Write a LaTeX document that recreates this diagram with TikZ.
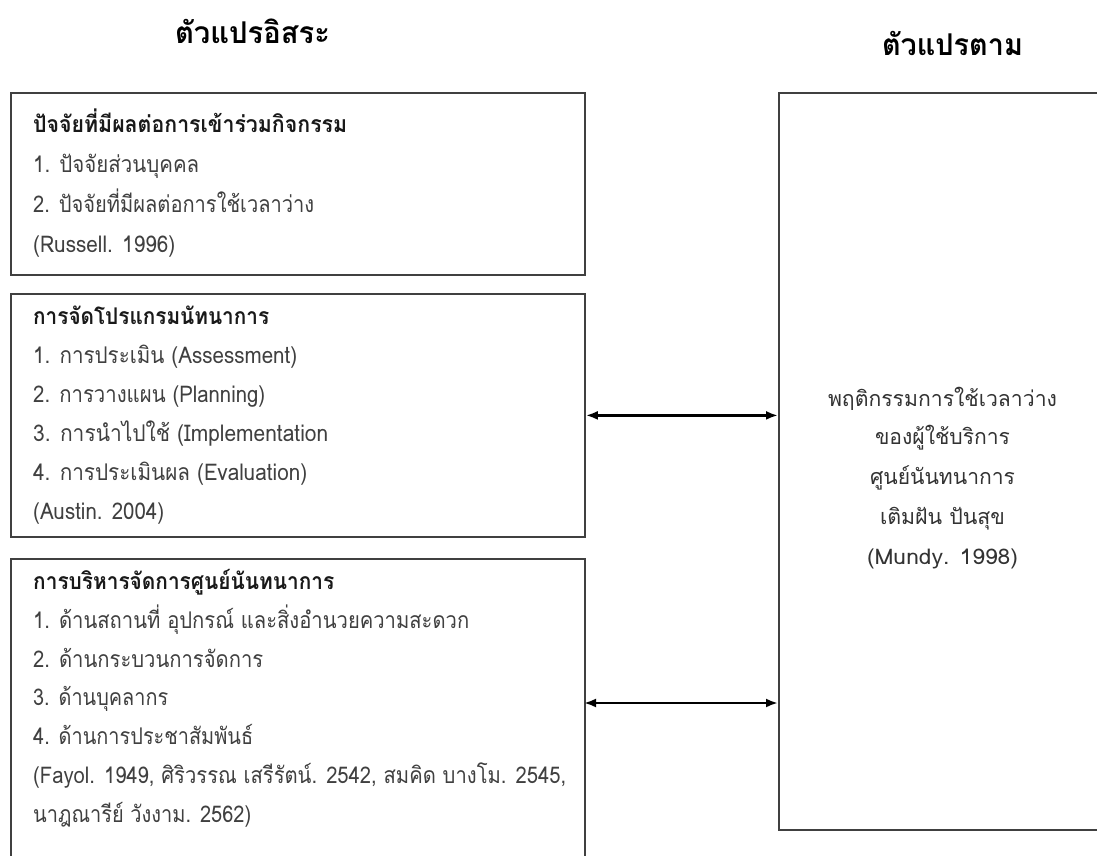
\documentclass[tikz,border=0pt]{standalone}
\usepackage{fontspec}
\usepackage{graphicx}
\newfontfamily\thai[Script=Thai]{Loma}
\usetikzlibrary{arrows.meta}
\newcommand{\fw}[2]{\resizebox{#1pt}{\height}{#2}}
\begin{document}
\begin{tikzpicture}[x=1pt,y=-1pt,
  frame/.style={draw=black!75, line width=1.8pt, anchor=north west, inner sep=0pt},
  head/.style={anchor=base west, inner sep=0pt, font=\thai\fontsize{23}{23}\selectfont\bfseries, text=black!90},
  item/.style={anchor=base west, inner sep=0pt, font=\thai\fontsize{23}{23}\selectfont, text=black!75},
  rtext/.style={anchor=base, inner sep=0pt, font=\thai\fontsize{21.5}{21}\selectfont, text=black!80},
  title/.style={anchor=base, inner sep=0pt, font=\thai\fontsize{30}{30}\selectfont\bfseries, text=black},
  dbl/.style={{Latex[length=12pt,width=9pt]}-{Latex[length=12pt,width=9pt]}, line width=2.4pt, black}]
\useasboundingbox (0,0) rectangle (1097,856);
\clip (0,0) rectangle (1097,856);
\fill[white] (0,0) rectangle (1097,856);

\node[title] (t1) at (252.5,44) {\fw{155}{ตัวแปรอิสระ}};
\node[title] (t2) at (952.5,56) {\fw{141}{ตัวแปรตาม}};

\node[frame, minimum width=574pt, minimum height=182pt] (b1) at (10,92) {};
\node[frame, minimum width=574pt, minimum height=243pt] (b2) at (10,293) {};
\node[frame, minimum width=574pt, minimum height=342pt] (b3) at (10,558) {};
\node[frame, minimum width=342pt, minimum height=737pt] (r) at (778,92) {};

\node[head] (h1) at (33,133) {\fw{314}{ปัจจัยที่มีผลต่อการเข้าร่วมกิจกรรม}};
\node[item] (i11) at (33,172) {\fw{166}{1. ปัจจัยส่วนบุคคล}};
\node[item] (i12) at (33,212) {\fw{281}{2. ปัจจัยที่มีผลต่อการใช้เวลาว่าง}};
\node[item] (i13) at (33,252) {\fw{142}{(Russell. 1996)}};

\node[head] (h2) at (33,324.5) {\fw{236}{การจัดโปรแกรมนัทนาการ}};
\node[item] (i21) at (33,363.5) {\fw{264}{1. การประเมิน (Assessment)}};
\node[item] (i22) at (33,402.5) {\fw{232}{2. การวางแผน (Planning)}};
\node[item] (i23) at (33,441.5) {\fw{295}{3. การนำไปใช้ (Implementation}};
\node[item] (i24) at (33,480.5) {\fw{274}{4. การประเมินผล (Evaluation)}};
\node[item] (i25) at (33,519.5) {\fw{131}{(Austin. 2004)}};

\node[head] (h3) at (33,589) {\fw{301}{การบริหารจัดการศูนย์นันทนาการ}};
\node[item] (i31) at (33,628) {\fw{436}{1. ด้านสถานที่ อุปกรณ์ และสิ่งอำนวยความสะดวก}};
\node[item] (i32) at (33,667) {\fw{230}{2. ด้านกระบวนการจัดการ}};
\node[item] (i33) at (33,705.5) {\fw{135}{3. ด้านบุคลากร}};
\node[item] (i34) at (33,744) {\fw{220}{4. ด้านการประชาสัมพันธ์}};
\node[item] (i35) at (33,783) {\fw{533}{(Fayol. 1949, ศิริวรรณ เสรีรัตน์. 2542, สมคิด บางโม. 2545,}};
\node[item] (i36) at (33,822) {\fw{218}{นาฎณารีย์ วังงาม. 2562)}};

\node[rtext] (r1) at (942.5,406) {\fw{229}{พฤติกรรมการใช้เวลาว่าง}};
\node[rtext] (r2) at (942.5,444) {\fw{135}{ของผู้ใช้บริการ}};
\node[rtext] (r3) at (942.5,484) {\fw{145}{ศูนย์นันทนาการ}};
\node[rtext] (r4) at (942.5,524) {\fw{125}{เติมฝัน ปันสุข}};
\node[rtext] (r5) at (942.5,564) {\fw{151}{(Mundy. 1998)}};

\coordinate (a1) at (b2.east);
\coordinate (a2) at (584,703);
\draw[dbl] (a1) -- (a1 -| r.west);
\draw[dbl] (a2) -- (a2 -| r.west);
\end{tikzpicture}
\end{document}
